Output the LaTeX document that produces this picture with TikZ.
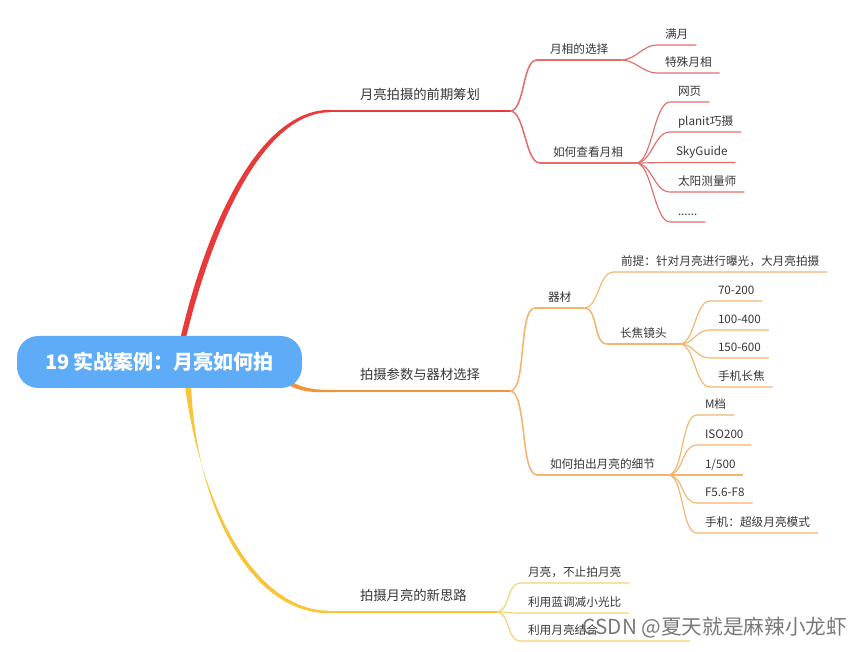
\documentclass[tikz,border=0pt]{standalone}
\usepackage{fontspec}
\setmainfont{Noto Sans CJK SC}
\usetikzlibrary{calc}
\pgfdeclarelayer{background}
\pgfsetlayers{background,main}
\definecolor{rootblue}{RGB}{94,172,247}
\definecolor{redmain}{RGB}{232,58,56}
\definecolor{redsub}{RGB}{226,110,108}
\definecolor{orgmain}{RGB}{240,148,58}
\definecolor{orgsub}{RGB}{245,180,110}
\definecolor{yelmain}{RGB}{248,196,56}
\definecolor{yelsub}{RGB}{246,210,112}
\definecolor{txt}{RGB}{55,55,55}
\tikzset{
  x=0.75pt, y=-0.75pt,
  base/.style={anchor=south west, text=txt, outer sep=0pt},
  lvlone/.style={base, font=\fontsize{10}{12}\selectfont, text height=8.8pt, text depth=1.2pt, inner xsep=22.5pt, inner ysep=7.75pt},
  lvltwo/.style={base, font=\fontsize{8.75}{11}\selectfont, text height=7.7pt, text depth=1.05pt, inner xsep=9.75pt, inner ysep=3.9pt},
  leaf/.style={base, font=\fontsize{8.75}{11}\selectfont, text height=7.7pt, text depth=1.05pt, inner xsep=6pt, inner ysep=3.9pt},
  rootbox/.style={fill=rootblue, text=white, rounded corners=16pt, minimum width=213.75pt, minimum height=39pt, inner sep=0pt, font=\fontsize{15}{18}\selectfont\bfseries},
  redone/.style={draw=redmain, line width=1.5pt},
  redtwo/.style={draw=redsub, line width=1.15pt},
  redleaf/.style={draw=redsub, line width=0.85pt},
  orgone/.style={draw=orgmain, line width=1.5pt},
  orgtwo/.style={draw=orgsub, line width=1.15pt},
  orgleaf/.style={draw=orgsub, line width=0.85pt},
  yelone/.style={draw=yelmain, line width=1.5pt},
  yeltwo/.style={draw=yelsub, line width=1.15pt},
  yelleaf/.style={draw=yelsub, line width=0.85pt},
  wmark/.style={text=black!62, opacity=0.85, font=\fontsize{15.5}{18}\selectfont, inner sep=0pt},
}
\begin{document}
\begin{tikzpicture}
\useasboundingbox (0,0) rectangle (865,652);

% root
\node[rootbox] (root) at (159.5,362) {19 实战案例：月亮如何拍};

% level 1
\node[lvlone] (A) at (330,111) {月亮拍摄的前期筹划};
\node[lvlone] (B) at (330,391) {拍摄参数与器材选择};
\node[lvlone] (C) at (330,612) {拍摄月亮的新思路};

% level 2 and leaves under A
\node[lvltwo] (A1) at (537,60) {月相的选择};
\node[lvltwo] (A2) at (540,163) {如何查看月相};
\node[leaf] (A11) at (657,45) {满月};
\node[leaf] (A12) at (657,73) {特殊月相};
\node[leaf] (A21) at (670,102) {网页};
\node[leaf] (A22) at (670,132) {planit巧摄};
\node[leaf] (A23) at (668,162.5) {SkyGuide};
\node[leaf] (A24) at (670,192) {太阳测量师};
\node[leaf] (A25) at (670,222) {......};

% under B
\node[lvltwo] (B1) at (535,308) {器材};
\node[leaf] (B11) at (613,272) {前提：针对月亮进行曝光，大月亮拍摄};
\node[lvltwo] (B12) at (607,344) {长焦镜头};
\node[leaf] (B121) at (710,301) {70-200};
\node[leaf] (B122) at (710,330) {100-400};
\node[leaf] (B123) at (710,358) {150-600};
\node[leaf] (B124) at (710,387) {手机长焦};
\node[lvltwo] (B2) at (537,475) {如何拍出月亮的细节};
\node[leaf] (B21) at (697,415) {M档};
\node[leaf] (B22) at (697,445) {ISO200};
\node[leaf] (B23) at (697,475) {1/500};
\node[leaf] (B24) at (697,503) {F5.6-F8};
\node[leaf] (B25) at (697,533) {手机：超级月亮模式};

% under C
\node[leaf] (C1) at (520,583) {月亮，不止拍月亮};
\node[leaf] (C2) at (520,613) {利用蓝调减小光比};
\node[leaf, text width=115.5pt, align=left] (C3) at (520,641) {利用月亮结合};

% watermark
\node[wmark] (wm) at (715,628) {CSDN @夏天就是麻辣小龙虾};

\begin{pgfonlayer}{background}
\fill[white] (0,0) rectangle (865,652);
% main tapered branches
\fill[redmain] ($(root.north)+(21,2)$) .. controls (206,228) and (258,110) .. ($(A.south west)+(0,-1.2)$)
  -- ($(A.south west)+(0,1.2)$) .. controls (262,113) and (212,230) .. ($(root.north)+(26.5,2)$) -- cycle;
\fill[orgmain] (284,377.5) .. controls (302,389) and (314,390) .. ($(B.south west)+(4,-1.1)$)
  -- ($(B.south west)+(4,1.1)$) .. controls (312,392.5) and (298,392.5) .. (282,381) -- cycle;
\fill[yelmain] ($(root.south)+(25.5,-2)$) .. controls (202,510) and (256,610.8) .. ($(C.south west)+(0,-1.2)$)
  -- ($(C.south west)+(0,1.2)$) .. controls (252,614) and (197,512) .. ($(root.south)+(31.5,-2)$) -- cycle;
\draw[redone] (A.south west) -- (A.south east);
\draw[orgone] (B.south west) -- (B.south east);
\draw[yelone] (C.south west) -- (C.south east);

% red
\draw[redtwo] (A.south east) .. controls +(15,0) and +(-15,0) .. (A1.south west) -- (A1.south east);
\draw[redtwo] (A.south east) .. controls +(15,0) and +(-15,0) .. (A2.south west) -- (A2.south east);
\foreach \n in {A11,A12}
  \draw[redleaf] (A1.south east) .. controls +(14,0) and +(-14,0) .. (\n.south west) -- (\n.south east);
\foreach \n in {A21,A22,A23,A24,A25}
  \draw[redleaf] (A2.south east) .. controls +(16,0) and +(-16,0) .. (\n.south west) -- (\n.south east);

% orange
\draw[orgtwo] (B.south east) .. controls +(17,0) and +(-17,0) .. (B1.south west) -- (B1.south east);
\draw[orgtwo] (B.south east) .. controls +(17,0) and +(-17,0) .. (B2.south west) -- (B2.south east);
\draw[orgleaf] (B1.south east) .. controls +(14,0) and +(-14,0) .. (B11.south west) -- (B11.south east);
\draw[orgtwo] (B1.south east) .. controls +(14,0) and +(-14,0) .. (B12.south west) -- (B12.south east);
\foreach \n in {B121,B122,B123,B124}
  \draw[orgleaf] (B12.south east) .. controls +(15,0) and +(-15,0) .. (\n.south west) -- (\n.south east);
\foreach \n in {B21,B22,B23,B24,B25}
  \draw[orgleaf] (B2.south east) .. controls +(16,0) and +(-16,0) .. (\n.south west) -- (\n.south east);

% yellow
\foreach \n in {C1,C2,C3}
  \draw[yelleaf] (C.south east) .. controls +(13,0) and +(-13,0) .. (\n.south west) -- (\n.south east);
\end{pgfonlayer}
\end{tikzpicture}
\end{document}
